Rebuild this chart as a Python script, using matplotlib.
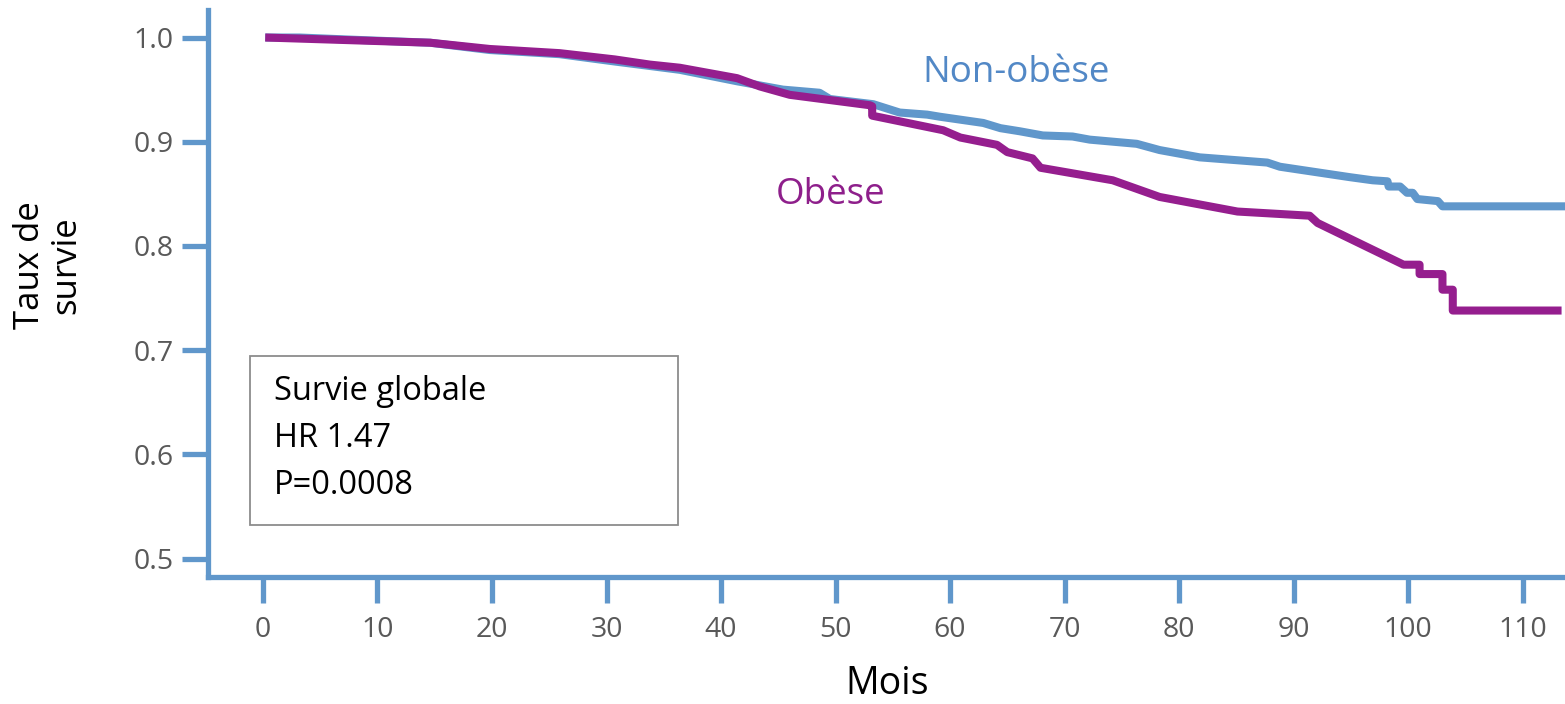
import matplotlib.pyplot as plt
from matplotlib.patches import Rectangle

plt.rcParams['font.family'] = ['Open Sans', 'DejaVu Sans']

# Kaplan-Meier curves (months, survival rate)
mois_non_obese = [0.2, 3.2, 7.6, 14.6, 19.8, 25.9, 30.7, 36.4, 41.4, 45.4, 48.6,
                  49.5, 53.3, 55.6, 58.0, 59.1, 62.9, 64.4, 66.1, 68.1, 70.7,
                  72.2, 76.3, 78.3, 81.8, 87.7, 88.8, 94.9, 96.9, 98.2, 98.3,
                  99.3, 99.9, 100.4, 100.8, 102.6, 103.0, 113.7]
survie_non_obese = [1.000, 1.000, 0.998, 0.995, 0.988, 0.984, 0.977, 0.969, 0.958,
                    0.950, 0.947, 0.941, 0.936, 0.928, 0.926, 0.924, 0.918, 0.913,
                    0.910, 0.906, 0.905, 0.902, 0.898, 0.892, 0.885, 0.880, 0.876,
                    0.866, 0.863, 0.862, 0.857, 0.857, 0.851, 0.851, 0.845, 0.843,
                    0.838, 0.838]

mois_obese = [0.2, 14.6, 19.8, 25.9, 30.7, 33.8, 36.4, 41.4, 43.4, 46.0, 53.0,
              53.2, 53.2, 59.4, 60.9, 64.1, 65.0, 67.2, 67.9, 74.2, 78.3, 85.1,
              91.4, 92.1, 99.6, 101.0, 101.0, 103.0, 103.0, 103.9, 103.9, 113.4]
survie_obese = [1.000, 0.995, 0.989, 0.985, 0.979, 0.974, 0.971, 0.961, 0.953,
                0.945, 0.935, 0.934, 0.925, 0.911, 0.904, 0.897, 0.890, 0.884,
                0.875, 0.863, 0.847, 0.833, 0.829, 0.822, 0.782, 0.782, 0.773,
                0.773, 0.758, 0.758, 0.738, 0.738]

x_ticks = [0, 10, 20, 30, 40, 50, 60, 70, 80, 90, 100, 110]
y_ticks = [0.5, 0.6, 0.7, 0.8, 0.9, 1.0]

BLUE = '#6097CB'
PURPLE = '#951E8E'
W, H = 1565, 704

fig = plt.figure(figsize=(W / 100, H / 100), dpi=100)
ax = fig.add_axes([208 / W, 1 - 577 / H, (W - 208) / W, (577 - 10) / H])
ax.set_xlim(-4.8, 113.7)
ax.set_ylim(0.4823, 1.0264)

ax.plot(mois_non_obese, survie_non_obese, color=BLUE, lw=5.8,
        solid_joinstyle='round', solid_capstyle='butt', zorder=3)
ax.plot(mois_obese, survie_obese, color=PURPLE, lw=5.8,
        solid_joinstyle='round', solid_capstyle='butt', zorder=4)

for side in ['top', 'right']:
    ax.spines[side].set_visible(False)
for side in ['left', 'bottom']:
    ax.spines[side].set_color(BLUE)
    ax.spines[side].set_linewidth(3.8)
    ax.spines[side].set_capstyle('projecting')

ax.set_xticks(x_ticks)
ax.set_yticks(y_ticks)
ax.set_yticklabels([f'{v:.1f}' for v in y_ticks])
ax.tick_params(axis='both', colors=BLUE, width=3.8, length=19,
               labelcolor='#595959', labelsize=20.5)
ax.tick_params(axis='x', pad=9)
ax.tick_params(axis='y', pad=6)
ax.set_facecolor('none')

# labels
fig.text(887 / W, 1 - 684 / H, 'Mois', fontsize=27, color='black',
         ha='center', va='center')
fig.text(48 / W, 1 - 265 / H, 'Taux de\nsurvie', fontsize=25, color='black',
         rotation=90, ha='center', va='center', multialignment='center',
         linespacing=1.1)

fig.text(1016 / W, 1 - 73 / H, 'Non-obèse', fontsize=26.5, color='#5288C6',
         ha='center', va='center')
fig.text(831 / W, 1 - 195 / H, 'Obèse', fontsize=26.5, color='#8E1F8B',
         ha='center', va='center')

# annotation box
fig.patches.append(Rectangle((250 / W, 1 - 525 / H), (678 - 250) / W,
                             (525 - 356) / H, transform=fig.transFigure,
                             fill=False, edgecolor='#8C8C8C', lw=1.3))
for i, line in enumerate(['Survie globale', 'HR 1.47', 'P=0.0008']):
    fig.text(274 / W, 1 - (392 + i * 46.5) / H, line, fontsize=23.5,
             color='black', ha='left', va='center')

fig.savefig('out.png', dpi=100)
